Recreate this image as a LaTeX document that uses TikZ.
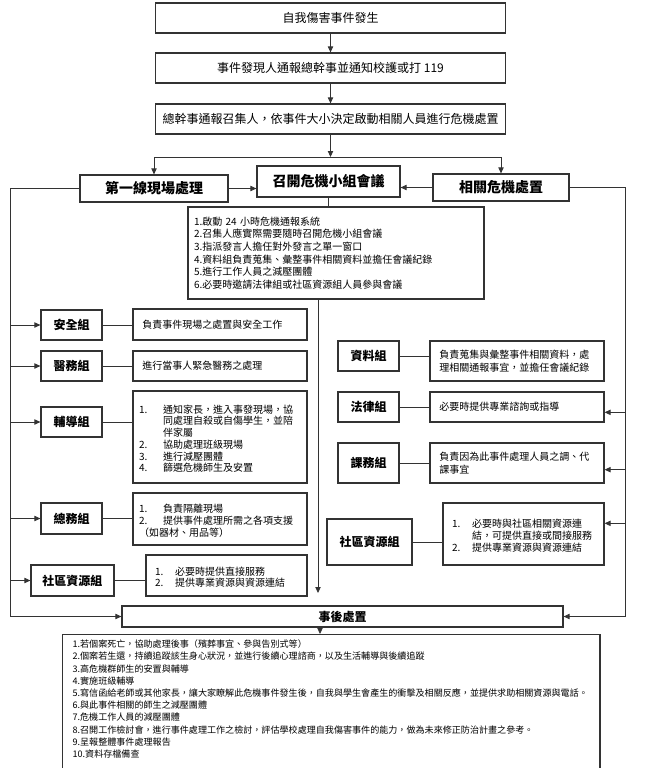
\documentclass[tikz,border=0pt]{standalone}
\usepackage{fontspec}
\setmainfont{Noto Sans CJK TC}
\usepackage{tikz}
\usetikzlibrary{arrows.meta,positioning,calc}

% numbered line with hanging indent
\newcommand{\numitem}[3][18pt]{\par\noindent\hangindent=#1\hangafter=1\makebox[#1][l]{#2}#3}

\begin{document}
\begin{tikzpicture}[
        x=0.75pt, y=-0.75pt,
        >={Triangle[length=4.5pt,width=4pt]},
        % boxes
        flow_box/.style={draw=black!80, line width=0.9pt, fill=white, minimum width=263pt, minimum height=22.5pt, font=\fontsize{9}{11}\selectfont},
        head_box/.style={draw=black!80, line width=0.9pt, fill=white, minimum height=20.25pt, font=\bfseries\fontsize{10.5}{12}\selectfont},
        group_box/.style={draw=black!80, line width=0.9pt, fill=white, minimum width=45.75pt, minimum height=22.5pt, font=\bfseries\fontsize{9}{11}\selectfont},
        desc_box/.style={draw=black!80, line width=0.9pt, fill=white, align=left, inner xsep=7pt, font=\fontsize{7.5}{9.5}\selectfont},
        list_box/.style={desc_box, inner xsep=4.5pt, font=\fontsize{7.5}{8.8}\selectfont},
        post_box/.style={draw=black!80, line width=0.9pt, anchor=north west, inner xsep=7.5pt, inner ysep=4pt, font=\fontsize{6.8}{9.15}\selectfont},
        % connectors
        link/.style={draw=black!80, line width=0.6pt},
        arrow/.style={link, ->}
    ]

    \useasboundingbox (0,0) rectangle (647,768);
    \clip (0,0) rectangle (647,768);

    % ==========================================
    % 1. top flow
    % ==========================================
    \node[flow_box] (occur) at (330.5,18) {自我傷害事件發生};
    \node[flow_box] (notify) at (330.5,68) {事件發現人通報總幹事並通知校護或打 119};
    \node[flow_box] (dispatch) at (330.5,119) {總幹事通報召集人，依事件大小決定啟動相關人員進行危機處置};

    \coordinate (branch) at (330.5,157);

    % --- three heads ---
    \node[head_box, minimum width=111pt] (first_line) at (154,188.5) {第一線現場處理};
    \node[head_box, minimum width=107.25pt, minimum height=23.25pt] (meeting) at (328.5,181.5) {召開危機小組會議};
    \node[head_box, minimum width=102pt] (related) at (501,187.5) {相關危機處置};

    \node[desc_box, inner xsep=4.5pt, text width=213pt, minimum height=69pt] (tasks) at (336,253) {%
        1.啟動 24 小時危機通報系統\\
        2.召集人應實際需要隨時召開危機小組會議\\
        3.指派發言人擔任對外發言之單一窗口\\
        4.資料組負責蒐集、彙整事件相關資料並擔任會議紀錄\\
        5.進行工作人員之減壓團體\\
        6.必要時邀請法律組或社區資源組人員參與會議};

    % ==========================================
    % 2. left column (first line)
    % ==========================================
    \node[group_box] (safety) at (71.5,325) {安全組};
    \node[desc_box, text width=116.5pt, minimum height=23.25pt] (safety_desc) at (220,324.5) {負責事件現場之處置與安全工作};

    \node[group_box] (medical) at (71.5,366) {醫務組};
    \node[desc_box, text width=116.5pt, minimum height=22.5pt] (medical_desc) at (220,366) {進行當事人緊急醫務之處理};

    \node[group_box] (counsel) at (71.5,422) {輔導組};
    \node[list_box, text width=121.5pt, minimum height=69pt] (counsel_desc) at (220,437) {%
        \numitem{1.}{通知家長，進入事發現場，協\newline 同處理自殺或自傷學生，並陪\newline 伴家屬}%
        \numitem{2.}{協助處理班級現場}%
        \numitem{3.}{進行減壓團體}%
        \numitem{4.}{篩選危機師生及安置}};

    \node[group_box, minimum height=23.25pt] (general) at (71.5,518.5) {總務組};
    \node[list_box, text width=121.5pt, minimum height=39pt] (general_desc) at (220,519) {%
        \numitem{1.}{負責隔離現場}%
        \numitem{2.}{提供事件處理所需之各項支援\newline（如器材、用品等）}};

    \node[group_box, minimum width=62.25pt, minimum height=23.25pt] (comm_left) at (72.5,580.5) {社區資源組};
    \node[list_box, inner xsep=6.75pt, text width=107.25pt, minimum height=30.75pt] (comm_left_desc) at (226.5,575.5) {%
        \numitem[15pt]{1.}{必要時提供直接服務}%
        \numitem[15pt]{2.}{提供專業資源與資源連結}};

    % ==========================================
    % 3. right column (related)
    % ==========================================
    \node[group_box] (data) at (368.5,356) {資料組};
    \node[desc_box, text width=116.5pt, minimum height=30pt] (data_desc) at (517,361) {負責蒐集與彙整事件相關資料，處\\理相關通報事宜，並擔任會議紀錄};

    \node[group_box] (law) at (368.5,407) {法律組};
    \node[desc_box, text width=116.5pt, minimum height=22.5pt] (law_desc) at (517,407) {必要時提供專業諮詢或指導};

    \node[group_box, minimum height=30pt] (course) at (368.5,463) {課務組};
    \node[desc_box, text width=116.5pt, minimum height=30pt] (course_desc) at (517,463) {負責因為此事件處理人員之調、代\\課事宜};

    \node[group_box, minimum width=63.75pt, minimum height=34.5pt] (comm_right) at (369.5,542) {社區資源組};
    \node[list_box, inner xsep=6.75pt, text width=107.25pt, minimum height=46.5pt] (comm_right_desc) at (523.5,534) {%
        \numitem[15pt]{1.}{必要時與社區相關資源連\newline 結，可提供直接或間接服務}%
        \numitem[15pt]{2.}{提供專業資源與資源連結}};

    % ==========================================
    % 4. aftercare
    % ==========================================
    \node[group_box, minimum width=330.75pt, minimum height=15.75pt] (aftercare) at (342.5,616.5) {事後處置};
    \node[post_box] (after_list) at (62,634) {\parbox[t][124pt][t]{388pt}{%
        1.若個案死亡，協助處理後事（殯葬事宜、參與告別式等）\\
        2.個案若生還，持續追蹤該生身心狀況，並進行後續心理諮商，以及生活輔導與後續追蹤\\
        3.高危機群師生的安置與輔導\\
        4.實施班級輔導\\
        5.寫信函給老師或其他家長，讓大家瞭解此危機事件發生後，自我與學生會產生的衝擊及相關反應，並提供求助相關資源與電話。\\
        6.與此事件相關的師生之減壓團體\\
        7.危機工作人員的減壓團體\\
        8.召開工作檢討會，進行事件處理工作之檢討，評估學校處理自我傷害事件的能力，做為未來修正防治計畫之參考。\\
        9.呈報整體事件處理報告\\
        10.資料存檔備查}};

    % ==========================================
    % 5. connectors
    % ==========================================
    \coordinate (left_rail) at (10,187);
    \coordinate (right_rail) at (625,187);
    \coordinate (mid_drop) at (318,593);
    \coordinate (after_drop) at (320,627);

    \draw[arrow] (occur) -- (notify);
    \draw[arrow] (notify) -- (dispatch);
    \draw[arrow] (dispatch.south) -- (branch);
    \draw[link] (branch -| first_line.north) -- (branch -| related.north);
    \draw[arrow] (branch -| first_line.north) -- (first_line.north);
    \draw[arrow] (branch -| related.north) -- (related.north);
    \draw[arrow] (first_line.east) -- (first_line.east -| meeting.west);
    \draw[arrow] (related.west) -- (related.west -| meeting.east);
    \draw[link] (meeting.south) -- (meeting.south |- tasks.north);
    \draw[arrow] (tasks.south -| mid_drop) -- (mid_drop);

    % left rail
    \draw[arrow] (first_line.west) -- (first_line.west -| left_rail) -- (left_rail |- aftercare.west) -- (aftercare.west);
    \foreach \grp in {safety, medical, counsel, general, comm_left} {
        \draw[arrow] (left_rail |- \grp.west) -- (\grp.west);
        \draw[link] (\grp.east) -- (\grp.east -| \grp_desc.west);
    }

    % right rail
    \draw[arrow] (related.east) -- (related.east -| right_rail) -- (right_rail |- aftercare.east) -- (aftercare.east);
    \foreach \grp/\dy in {law_desc/-4pt, course_desc/-5pt, comm_right_desc/8pt}
        \draw[arrow] ([yshift=\dy]\grp.east -| right_rail) -- ([yshift=\dy]\grp.east);
    \foreach \grp in {data, law, course, comm_right}
        \draw[link] (\grp.east) -- (\grp.east -| \grp_desc.west);

    \draw[arrow] (after_drop) -- (after_drop |- after_list.north);

\end{tikzpicture}
\end{document}
